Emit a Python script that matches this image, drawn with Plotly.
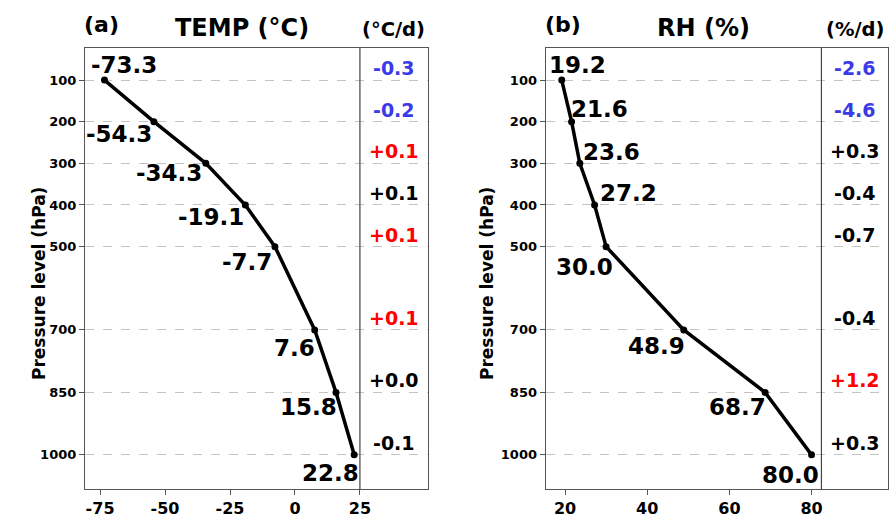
import plotly.graph_objects as go

# ---------------- data ----------------
levels = [100, 200, 300, 400, 500, 700, 850, 1000]
temp = [-73.3, -54.3, -34.3, -19.1, -7.7, 7.6, 15.8, 22.8]
rh = [19.2, 21.6, 23.6, 27.2, 30.0, 48.9, 68.7, 80.0]
temp_rate = ["-0.3", "-0.2", "+0.1", "+0.1", "+0.1", "+0.1", "+0.0", "-0.1"]
temp_rate_col = ["blue", "blue", "red", "black", "red", "red", "black", "black"]
rh_rate = ["-2.6", "-4.6", "+0.3", "-0.4", "-0.7", "-0.4", "+1.2", "+0.3"]
rh_rate_col = ["blue", "blue", "black", "black", "black", "black", "red", "black"]
temp_ticks = [-75, -50, -25, 0, 25]
rh_ticks = [20, 40, 60, 80]

# ---------------- style ----------------
W, H = 890, 519
FONT = "DejaVu Sans"
COLS = {"blue": "#3a3ae8", "red": "#ff0000", "black": "#000000"}
# label offsets (px, screen coords: +x right, +y down)
temp_off = [(20, -15), (-35, 12), (-37, 10), (-34, 12), (-28, 15), (-20, 18), (-28, 15), (-24, 18)]
rh_off = [(16, -15), (28, -13), (32, -11), (34, -12), (-22, 20), (-27, 16), (-28, 15), (-21, 20)]

xr_temp = [-80.8, 51.2]
div_temp = 25
xr_rh = [15.3, 98.6]
div_rh = 82.4
yr = [1082, 23]
ydom = [1 - 489 / H, 1 - 48 / H]
xdom1 = [85 / W, 428 / W]
xdom2 = [545.7 / W, 888 / W]

fig = go.Figure()
for xs, xa, ya in [(temp, "x", "y"), (rh, "x2", "y2")]:
    fig.add_trace(go.Scatter(x=xs, y=levels, xaxis=xa, yaxis=ya, mode="lines+markers",
                             line=dict(color="black", width=3.5),
                             marker=dict(color="black", size=7), showlegend=False,
                             hoverinfo="skip"))

ann = []
for xs, offs, xa, ya in [(temp, temp_off, "x", "y"), (rh, rh_off, "x2", "y2")]:
    for v, p, (dx, dy) in zip(xs, levels, offs):
        ann.append(dict(x=v, y=p, xref=xa, yref=ya, text=f"{v:.1f}", showarrow=False,
                        xshift=dx, yshift=-dy,
                        font=dict(family=FONT, size=23, color="black", weight="bold")))

for rates, cols, xa, ya, dv, xr in [(temp_rate, temp_rate_col, "x", "y", div_temp, xr_temp),
                                    (rh_rate, rh_rate_col, "x2", "y2", div_rh, xr_rh)]:
    xc = (dv + xr[1]) / 2
    for t, c, p in zip(rates, cols, levels):
        ann.append(dict(x=xc, y=p, xref=xa, yref=ya, text=t, showarrow=False, yshift=12,
                        font=dict(family=FONT, size=19, color=COLS[c], weight="bold")))

titles = [("(a)", 101, 25, 22), ("TEMP (°C)", 242, 28, 24), ("(°C/d)", 393, 30, 19.5),
          ("(b)", 563, 25, 22), ("RH (%)", 703, 28, 24), ("(%/d)", 855, 30, 19.5)]
for t, xp, ypx, s in titles:
    ann.append(dict(x=xp / W, y=1 - ypx / H, xref="paper", yref="paper", text=t,
                    showarrow=False, xanchor="center", yanchor="middle",
                    font=dict(family=FONT, size=s, color="black", weight="bold")))

for xp in [27, 487]:
    ann.append(dict(x=xp / W, y=1 - 284 / H, xref="paper", yref="paper",
                    text="Pressure level (hPa)", textangle=-90, showarrow=False,
                    font=dict(family=FONT, size=17, color="black", weight="bold")))

shapes = [dict(type="line", xref="x", yref="y domain", x0=div_temp, x1=div_temp, y0=0, y1=1,
               line=dict(color="#444", width=1.2)),
          dict(type="line", xref="x2", yref="y2 domain", x0=div_rh, x1=div_rh, y0=0, y1=1,
               line=dict(color="#444", width=1.2))]

axis_common = dict(showline=True, mirror=True, linecolor="#555", linewidth=1.2,
                   ticks="outside", ticklen=5, tickcolor="#555", zeroline=False)
yaxis_common = dict(axis_common, range=yr, domain=ydom, tickvals=levels,
                    ticktext=[str(v) for v in levels],
                    showgrid=True, gridcolor="#c4c4c4", griddash="dash", gridwidth=1,
                    tickfont=dict(family=FONT, size=13, color="black", weight="bold"))
xaxis_common = dict(axis_common, showgrid=False,
                    tickfont=dict(family=FONT, size=16, color="black", weight="bold"))

fig.update_layout(
    width=W, height=H, margin=dict(l=0, r=0, t=0, b=0),
    paper_bgcolor="white", plot_bgcolor="white",
    xaxis=dict(xaxis_common, domain=xdom1, range=xr_temp, tickvals=temp_ticks,
               ticktext=[str(v) for v in temp_ticks], anchor="y"),
    yaxis=dict(yaxis_common, anchor="x"),
    xaxis2=dict(xaxis_common, domain=xdom2, range=xr_rh, tickvals=rh_ticks,
                ticktext=[str(v) for v in rh_ticks], anchor="y2"),
    yaxis2=dict(yaxis_common, anchor="x2"),
    annotations=ann, shapes=shapes,
)

fig.write_html("out.html")
